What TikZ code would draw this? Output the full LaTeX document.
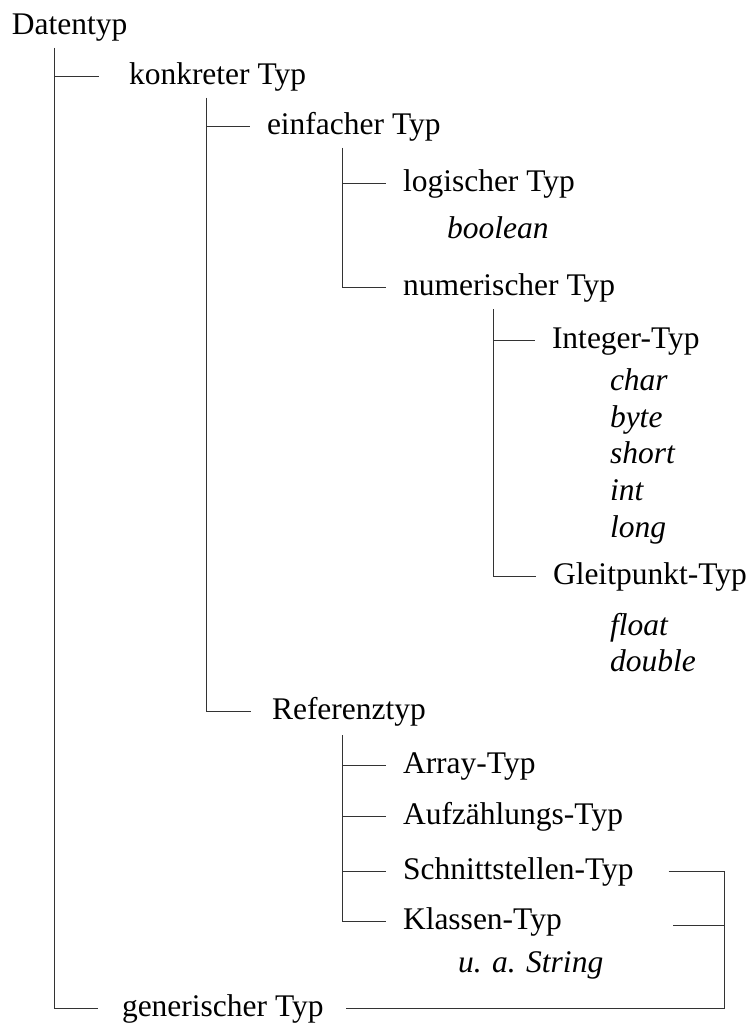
\documentclass[tikz,border=0pt]{standalone}
\usepackage{fontspec}
\setmainfont{Liberation Serif}
\begin{document}
\begin{tikzpicture}[x=1pt,y=-1pt,
  branch/.style={draw=black!80,line width=1pt,shorten >=#1},
  branch/.default=17pt,
  lbl/.style={anchor=base west,inner sep=0pt,outer sep=0pt,
    text height=22pt,text depth=6pt,font=\fontsize{31.5}{36}\selectfont},
  kind/.style={lbl,font=\fontsize{31.5}{36}\selectfont\itshape}]
\useasboundingbox (0,0) rectangle (754,1024);

% labels of the tree
\node[lbl] (dt) at (12,35) {Datentyp};
\node[lbl] (konkret) at (129,85) {konkreter Typ};
\node[lbl] (einfach) at (267,135) {einfacher Typ};
\node[lbl] (logisch) at (403,192) {logischer Typ};
\node[kind] (bool) at (447,239) {boolean};
\node[lbl] (numerisch) at (403,295) {numerischer Typ};
\node[lbl] (integer) at (552,348) {Integer-Typ};
\node[kind] (char) at (610,390) {char};
\node[kind] (byte) at (610,427) {byte};
\node[kind] (short) at (610,463) {short};
\node[kind] (int) at (610,500) {int};
\node[kind] (long) at (610,537) {long};
\node[lbl] (gleit) at (553,584) {Gleitpunkt-Typ};
\node[kind] (float) at (610,635) {float};
\node[kind] (double) at (610,671) {double};
\node[lbl] (referenz) at (272,719) {Referenztyp};
\node[lbl] (array) at (403,773) {Array-Typ};
\node[lbl] (aufz) at (403,824) {Aufzählungs-Typ};
\node[lbl] (schnitt) at (403,879) {Schnittstellen-Typ};
\node[lbl] (klassen) at (403,929) {Klassen-Typ};
\node[kind] (string) at (458,972) {u. a. String};
\node[lbl] (generisch) at (122,1016) {generischer Typ};

% trunk tops below each parent
\coordinate (t1) at (54,48);
\coordinate (t2) at (206,98);
\coordinate (t3) at (342,148);
\coordinate (t4) at (493,309);
\coordinate (t5) at (342,735);

% branches
\draw[branch=30pt] (t1) |- (konkret.west);
\draw[branch=24pt] (t1) |- (generisch.west);
\draw[branch] (t2) |- (einfach.west);
\draw[branch=21pt] (t2) |- (referenz.west);
\draw[branch] (t3) |- (logisch.west);
\draw[branch] (t3) |- (numerisch.west);
\draw[branch] (t4) |- (integer.west);
\draw[branch] (t4) |- (gleit.west);
\draw[branch] (t5) |- (array.west);
\draw[branch] (t5) |- (aufz.west);
\draw[branch] (t5) |- (schnitt.west);
\draw[branch] (t5) |- (klassen.west);

% bracket joining Schnittstellen-Typ and Klassen-Typ to generischer Typ
\coordinate (bk) at (724,925);
\coordinate (kr) at (673,925);
\draw[branch=22pt] ([xshift=35pt]schnitt.east) -| (bk |- generisch.east) -- (generisch.east);
\draw[branch=0pt] (kr) -- (bk);
\end{tikzpicture}
\end{document}
